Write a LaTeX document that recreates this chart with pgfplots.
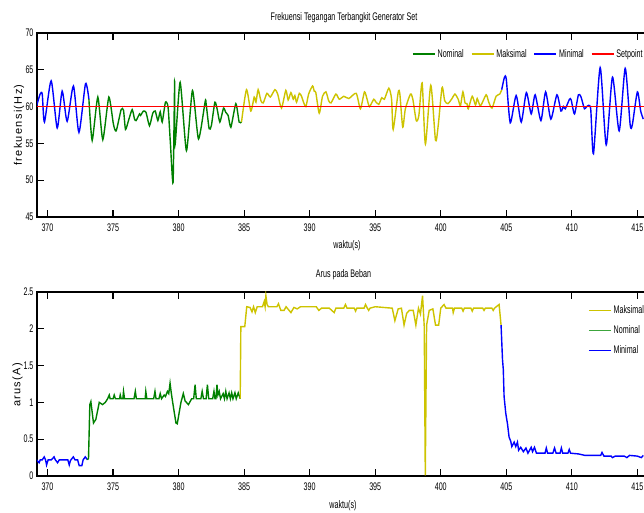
\documentclass[border=0pt]{standalone}
\usepackage{fontspec}
\setmainfont[FakeStretch=0.65]{Liberation Sans}
\newfontfamily\ylfont[LetterSpace=12]{Liberation Sans}
\usepackage{pgfplots}
\pgfplotsset{compat=1.18}

\definecolor{nomgreen}{RGB}{0,128,0}
\definecolor{maxyellow}{RGB}{205,195,0}
\definecolor{minblue}{RGB}{0,0,255}
\definecolor{setred}{RGB}{255,0,0}
\definecolor{nomlight}{RGB}{60,165,60}

\newcommand{\lbl}{\fontsize{11}{13}\selectfont}

\pgfplotsset{
  genset/.style={
    scale only axis,
    width=613.5pt, height=184pt,
    xmin=369.2, xmax=416,
    xtick={370,375,...,415},
    tick align=inside,
    major tick length=7pt,
    xtick pos=both, ytick pos=left,
    axis line style={line width=1.1pt},
    tick style={line width=1.1pt, black},
    tick label style={font=\lbl},
    xticklabel style={yshift=-3pt},
    /pgf/number format/assume math mode=true,
    clip=true,
    every axis plot/.append style={line width=1.4pt},
    legend image code/.code={\draw[#1, line width=1.6pt] (0pt,0pt) -- (22pt,0pt);},
    legend cell align=left,
  },
}

\begin{document}
\begin{tikzpicture}
\useasboundingbox (0pt,0pt) rectangle (644pt,513pt);

% ---------- frekuensi ----------
\begin{axis}[genset,
  at={(37pt,296pt)}, anchor=south west,
  ymin=45, ymax=70, ytick={45,50,...,70},
  legend style={at={(0.606,0.886)}, anchor=west, draw=none, fill=none,
    font=\lbl, legend columns=4,
    /tikz/every even column/.append style={column sep=5pt}},
]
\addplot[minblue, smooth, tension=0.4, forget plot] coordinates {
(369.14,59.9) (369.44,61.7) (369.6,61.7) (369.77,57.9) (370.28,63.5)
(370.74,57.1) (371.12,62.1) (371.5,58.0) (371.98,62.8) (372.4,56.5)
(372.9,63.1) (373.16,61.0)};
\addplot[nomgreen, smooth, tension=0.35, forget plot] coordinates {
(373.16,61.0) (373.41,55.4) (373.84,61.3) (374.22,55.5) (374.68,61.3)
(375.03,57.6) (375.24,56.7) (375.62,59.6) (375.8,59.5) (375.95,56.9)
(376.18,58.1) (376.46,59.6) (376.64,58.3) (376.76,58.1) (377.02,59.0)
(377.1,58.8) (377.32,59.4) (377.52,59.2) (377.78,57.4) (378.03,59.1)
(378.22,59.4) (378.42,58.1) (378.6,59.3) (378.75,57.9) (379.0,60.6)
(379.2,59.9) (379.38,54.9) (379.58,49.7) (379.7,63.4) (379.73,54.8)
(380.12,63.3) (380.6,54.0) (381.06,62.2) (381.52,55.6) (382.03,60.7)
(382.1,60.4) (382.33,57.0) (382.5,57.4) (382.77,60.6) (382.95,59.6)
(383.15,57.9) (383.43,59.8) (383.6,59.2) (383.78,58.8) (383.99,57.2)
(384.37,60.4) (384.62,57.9) (384.8,57.9)};
\addplot[maxyellow, smooth, tension=0.4, forget plot] coordinates {
(384.8,57.9) (385.18,62.3) (385.51,59.4) (385.77,61.3) (385.9,60.6)
(386.07,62.3) (386.28,60.8) (386.46,60.5) (386.74,61.8) (387.0,61.3)
(387.35,62.3) (387.56,61.7) (387.85,59.8) (388.18,62.2) (388.36,60.9)
(388.57,61.9) (388.75,61.0) (388.87,61.5) (389.0,60.6) (389.21,61.8)
(389.38,61.4) (389.51,60.7) (389.71,60.0) (389.92,61.7) (390.22,62.8)
(390.35,62.1) (390.47,61.9) (390.73,59.1) (390.98,61.4) (391.24,62.0)
(391.45,60.8) (391.63,60.5) (392.0,61.7) (392.26,61.0) (392.6,61.4)
(392.99,61.1) (393.55,61.8) (393.87,59.7) (394.18,62.0) (394.38,61.0)
(394.56,60.0) (394.89,61.0) (395.02,60.7) (395.27,60.3) (395.5,61.2)
(395.7,61.0) (396.04,62.5) (396.25,61.0) (396.37,56.9) (396.75,61.9)
(396.88,61.7) (397.1,57.2) (397.3,59.7) (397.69,61.7) (397.87,61.0)
(398.13,58.1) (398.33,58.8) (398.58,63.2) (398.83,54.9) (399.24,62.9)
(399.6,55.4) (399.81,57.5) (400.1,62.6) (400.3,60.8) (400.55,60.4)
(400.86,61.1) (401.08,61.7) (401.33,61.0) (401.5,60.1) (401.69,62.0)
(401.85,60.5) (402.0,60.4) (402.1,59.7) (402.4,61.4) (402.65,60.2)
(402.78,61.1) (403.03,60.1) (403.46,61.6) (403.66,60.6) (403.91,59.8)
(404.22,61.4) (404.5,61.7) (404.65,62.3)};
\addplot[minblue, smooth, tension=0.4, forget plot] coordinates {
(404.65,62.3) (404.86,64.0) (405.0,63.7) (405.3,57.8) (405.75,61.5)
(406.14,57.9) (406.53,61.9) (406.9,59.0) (407.2,61.6) (407.64,58.1)
(408.0,62.0) (408.4,58.3) (408.86,61.6) (409.17,59.4) (409.35,60.0)
(409.5,59.7) (409.82,61.0) (409.95,60.9) (410.2,59.0) (410.5,61.6)
(410.7,61.3) (410.96,59.7) (411.13,60.0) (411.43,59.8) (411.65,53.6)
(412.16,65.3) (412.62,54.8) (413.1,64.0) (413.61,56.7) (414.07,65.2)
(414.45,57.5) (414.62,57.6) (415.0,62.0) (415.25,59.4) (415.45,58.3)};
\addplot[setred, line width=1.1pt, forget plot] coordinates {(369.2,60) (416,60)};
\addlegendimage{nomgreen}\addlegendentry{Nominal}
\addlegendimage{maxyellow}\addlegendentry{Maksimal}
\addlegendimage{minblue}\addlegendentry{Minimal}
\addlegendimage{setred}\addlegendentry{Setpoint}
\end{axis}

% ---------- arus ----------
\begin{axis}[genset,
  at={(37pt,37pt)}, anchor=south west,
  ymin=0, ymax=2.5, ytick={0,0.5,...,2.5},
  legend style={at={(0.893,0.947)}, anchor=north west, draw=none, fill=none,
    font=\lbl, row sep=6.5pt},
]
\addplot[minblue, forget plot] coordinates {
(369.16,0.22) (369.36,0.18) (369.45,0.22) (369.6,0.22) (369.75,0.26)
(369.85,0.22) (369.93,0.15) (370.05,0.22) (370.3,0.22) (370.5,0.26)
(370.6,0.22) (370.77,0.18) (370.9,0.22) (371.4,0.22) (371.55,0.22)
(371.66,0.15) (371.75,0.21) (371.97,0.26) (372.1,0.22) (372.3,0.22)
(372.42,0.14) (372.62,0.14) (372.72,0.22) (372.88,0.26) (373.05,0.22)};
\addplot[nomgreen, forget plot] coordinates {
(373.05,0.22) (373.13,0.24) (373.23,0.97) (373.31,1.01) (373.51,0.72)
(373.69,0.77) (373.95,1.0) (374.2,0.97) (374.41,1.0) (374.59,1.05)
(374.71,1.1) (374.78,1.05) (375.0,1.05) (375.09,1.1) (375.18,1.05)
(375.5,1.05) (375.55,1.1) (375.62,1.05) (375.75,1.05) (375.8,1.15)
(375.88,1.05) (376.6,1.05) (376.7,1.15) (376.78,1.05) (377.45,1.05)
(377.5,1.15) (377.58,1.05) (378.1,1.05) (378.2,1.15) (378.28,1.05)
(378.5,1.05) (378.6,1.12) (378.7,1.05) (378.9,1.1) (379.0,1.08)
(379.15,1.15) (379.25,1.12) (379.35,1.26) (379.45,1.12) (379.55,1.0)
(379.8,0.72) (379.9,0.71) (380.18,1.0) (380.36,1.12) (380.5,1.02)
(380.75,0.97) (381.0,1.05) (381.15,1.05) (381.26,1.24) (381.35,1.05)
(381.7,1.05) (381.8,1.15) (381.9,1.05) (382.1,1.05) (382.2,1.24)
(382.3,1.05) (382.6,1.05) (382.7,1.15) (382.78,1.05) (382.85,1.05)
(382.93,1.24) (383.0,1.1) (383.1,1.15) (383.2,1.05) (383.4,1.12)
(383.5,1.05) (383.6,1.15) (383.7,1.05) (383.85,1.13) (383.95,1.05)
(384.05,1.13) (384.15,1.05) (384.3,1.13) (384.4,1.05) (384.55,1.13)
(384.7,1.05)};
\addplot[maxyellow, forget plot] coordinates {
(384.7,1.05) (384.75,2.03) (385.05,2.03) (385.2,2.3) (385.45,2.29)
(385.6,2.23) (385.72,2.3) (385.85,2.22) (386.0,2.3) (386.4,2.3)
(386.53,2.37) (386.6,2.3) (386.66,2.45) (386.75,2.33) (386.85,2.3)
(387.5,2.3) (387.62,2.34) (387.8,2.25) (388.05,2.25) (388.2,2.3)
(388.57,2.22) (388.8,2.29) (389.05,2.27) (389.3,2.3) (390.5,2.3)
(390.7,2.25) (390.9,2.28) (391.5,2.28) (391.87,2.22) (392.0,2.28)
(392.6,2.28) (392.73,2.33) (392.85,2.28) (393.4,2.28) (393.5,2.24)
(393.6,2.28) (394.15,2.28) (394.26,2.33) (394.4,2.28) (394.5,2.25)
(394.6,2.28) (395.0,2.3) (396.3,2.28) (396.5,2.11) (396.75,2.27)
(397.0,2.28) (397.2,2.05) (397.4,2.21) (397.6,2.25) (397.9,2.25)
(398.1,2.05) (398.3,2.28) (398.45,2.2) (398.61,2.45) (398.74,2.03)
(398.82,0.01) (398.92,2.05) (399.12,2.25) (399.4,2.27) (399.6,2.05)
(399.84,2.05) (400.0,2.28) (400.25,2.33) (400.4,2.28) (400.9,2.28)
(400.95,2.22) (401.05,2.28) (401.6,2.28) (401.7,2.24) (401.8,2.28)
(402.3,2.28) (402.4,2.24) (402.5,2.28) (403.2,2.28) (403.3,2.25)
(403.4,2.28) (403.9,2.28) (404.0,2.25) (404.1,2.28) (404.45,2.33)
(404.6,2.05)};
\addplot[minblue, forget plot] coordinates {
(404.6,2.05) (404.71,1.58) (404.77,1.45) (404.83,1.08) (404.96,0.85)
(405.09,0.71) (405.21,0.53) (405.34,0.47) (405.42,0.4) (405.6,0.46)
(405.72,0.4) (405.85,0.46) (405.94,0.35) (406.1,0.39) (406.3,0.33)
(406.5,0.38) (406.65,0.31) (406.9,0.39) (407.0,0.33) (407.15,0.39)
(407.3,0.31) (407.7,0.31) (407.95,0.31) (408.05,0.38) (408.15,0.31)
(408.55,0.31) (408.68,0.38) (408.8,0.31) (409.1,0.31) (409.2,0.38)
(409.3,0.31) (409.7,0.31) (409.8,0.36) (409.9,0.31) (410.5,0.3)
(411.0,0.28) (411.8,0.28) (412.2,0.28) (412.3,0.32) (412.45,0.27)
(413.0,0.27) (413.1,0.25) (413.3,0.27) (414.0,0.27) (414.2,0.25)
(414.4,0.28) (415.0,0.27) (415.3,0.25) (415.45,0.28)};
\addlegendimage{color=maxyellow}\addlegendentry{Maksimal}
\addlegendimage{color=nomlight}\addlegendentry{Nominal}
\addlegendimage{color=minblue}\addlegendentry{Minimal}
\end{axis}

% titles and labels
\node[font=\lbl] at (344pt,495.5pt) {Frekuensi Tegangan Terbangkit Generator Set};
\node[font=\lbl] at (347pt,267pt) {waktu(s)};
\node[font={\ylfont\fontsize{11}{13}\selectfont}, rotate=90] at (19pt,388pt) {frekuensi(Hz)};
\node[font=\lbl] at (343.5pt,238pt) {Arus pada Beban};
\node[font=\lbl] at (343pt,7pt) {waktu(s)};
\node[font={\ylfont\fontsize{11}{13}\selectfont}, rotate=90] at (17.5pt,128pt) {arus(A)};
\end{tikzpicture}
\end{document}
